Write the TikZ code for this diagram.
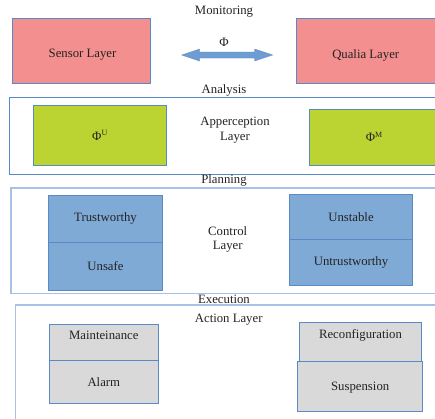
\documentclass[tikz,border=0pt]{standalone}
\usepackage{fontspec}
\setmainfont{Liberation Serif}
\definecolor{pinkf}{RGB}{243,143,142}
\definecolor{greenf}{RGB}{187,212,50}
\definecolor{bluef}{RGB}{127,170,214}
\definecolor{blueb}{RGB}{88,138,198}
\definecolor{greyf}{RGB}{217,217,217}
\definecolor{arrowf}{RGB}{110,157,211}
\definecolor{framel}{RGB}{166,194,228}
\definecolor{txt}{RGB}{35,35,35}
\tikzset{
  box/.style={draw=blueb, line width=0.9pt, inner sep=0pt, text=txt},
  lbl/.style={text=txt, inner sep=0pt, align=center},
  frameA/.style={draw=blueb, line width=0.9pt},
  frameB/.style={draw=framel, line width=1.6pt},
}
\begin{document}
\begin{tikzpicture}[x=1bp,y=-1bp,font=\fontsize{12.8}{14.8}\selectfont]
\clip (0,0) rectangle (435,418);
\fill[white] (0,0) rectangle (435,418);
% frames
\draw[frameA] (9.3,97.3) rectangle (440,174.3);
\draw[frameB] (11,188) rectangle (440,293.3);
\draw[frameB] (15.7,305) rectangle (440,425);
% monitoring
\node[lbl] (mon) at (224,12) {Monitoring};
\node[box, fill=pinkf, minimum width=138.4bp, minimum height=65bp] (sensor) at (81.5,50.8) {};
\node[lbl] (sensorT) at (82.5,55) {Sensor Layer};
\node[box, fill=pinkf, minimum width=142bp, minimum height=65bp] (qualia) at (367,50.8) {};
\node[lbl] (qualiaT) at (365.7,55) {Qualia Layer};
\node[lbl] (phi) at (224,42) {Φ};
\fill[arrowf, draw=arrowf!85!black, line width=0.3pt]
  (181.7,55) -- (199.7,49) -- (199.7,52) -- (254.7,52) -- (254.7,49) -- (272.7,55)
  -- (254.7,61) -- (254.7,58) -- (199.7,58) -- (199.7,61) -- cycle;
% analysis
\node[lbl] (ana) at (224,90.7) {Analysis};
\node[box, fill=greenf, minimum width=133.4bp, minimum height=59.3bp] (phiu) at (100,135.35) {Φ\textsuperscript{\fontsize{8}{8}\selectfont U}};
\node[box, fill=greenf, minimum width=130bp, minimum height=56bp] (phim) at (374.3,137) {Φ\textsuperscript{\fontsize{8}{8}\selectfont M}};
\node[lbl] (app) at (235,130) {Apperception\\Layer};
% planning
\node[lbl] (plan) at (224,180) {Planning};
\node[box, fill=bluef, minimum width=114.4bp, minimum height=47.3bp] (trust) at (105.5,218.65) {Trustworthy};
\node[box, fill=bluef, minimum width=114.4bp, minimum height=47.7bp] (unsafe) at (105.5,266.15) {Unsafe};
\node[box, fill=bluef, minimum width=123.4bp, minimum height=45.3bp] (unstable) at (351,216.65) {Unstable};
\node[box, fill=bluef, minimum width=123.4bp, minimum height=46bp] (untrust) at (351,262.3) {Untrustworthy};
\node[lbl] (ctrl) at (227.7,239.5) {Control\\Layer};
% execution
\node[lbl] (exe) at (224,299.3) {Execution};
\node[lbl] (act) at (228.7,319.3) {Action Layer};
\node[box, fill=greyf, minimum width=109bp, minimum height=35.7bp] (maint) at (103.8,342.15) {};
\node[lbl] (maintT) at (103.8,335.7) {Mainteinance};
\node[box, fill=greyf, minimum width=109bp, minimum height=43.3bp] (alarm) at (103.8,381.65) {Alarm};
\node[box, fill=greyf, minimum width=122.4bp, minimum height=38.6bp] (reconf) at (360.5,342) {};
\node[lbl] (reconfT) at (360.5,335.7) {Reconfiguration};
\node[box, fill=greyf, minimum width=125bp, minimum height=50.4bp] (susp) at (360.2,386.5) {};
\node[lbl] (suspT) at (360.2,388) {Suspension};
\end{tikzpicture}
\end{document}
